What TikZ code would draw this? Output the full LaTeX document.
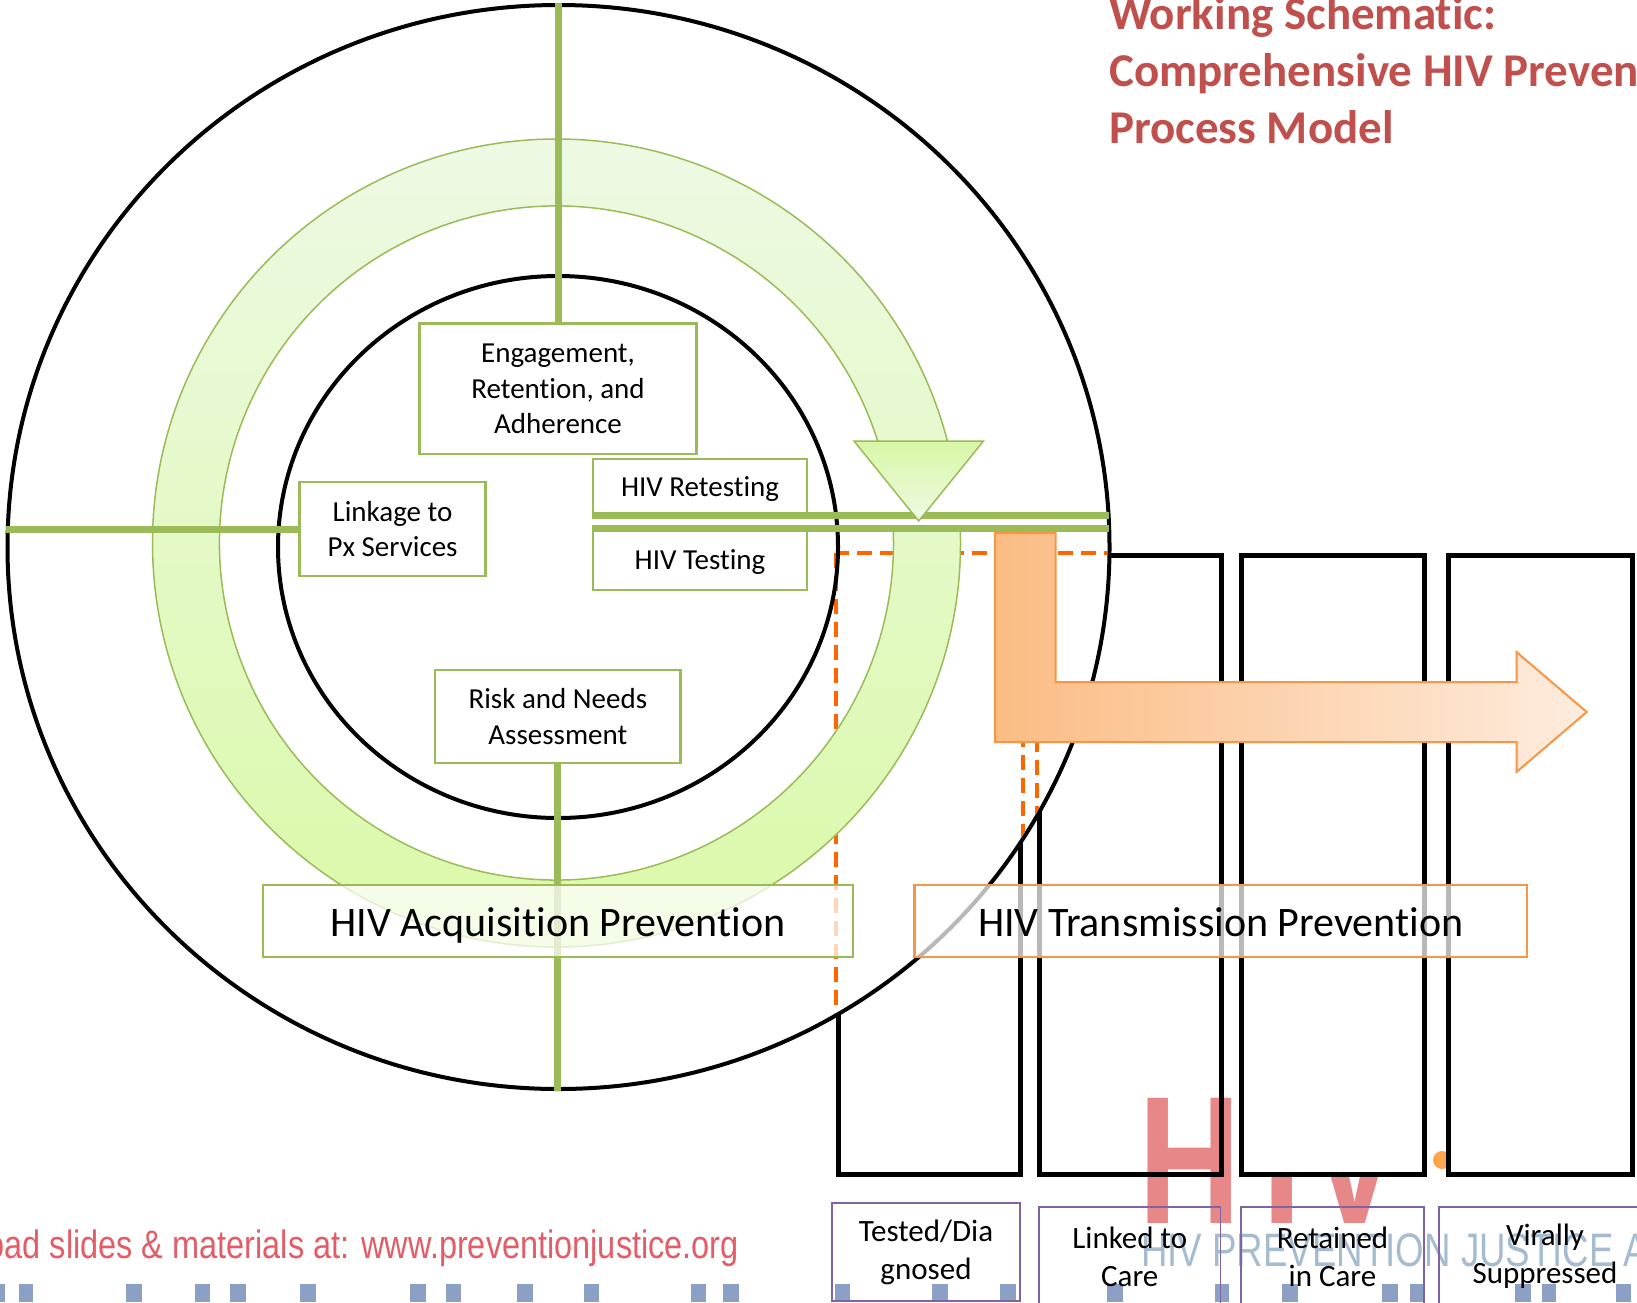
\documentclass[tikz,border=0pt]{standalone}
\usepackage{fontspec}
\setmainfont{Carlito}[RawFeature={-liga}]
\newfontfamily\wmfont[FakeStretch=0.82]{Liberation Sans}
\newfontfamily\logofont[FakeStretch=0.78]{Liberation Sans}
\usetikzlibrary{shapes.geometric}
\definecolor{gline}{HTML}{9BBB59}
\definecolor{oline}{HTML}{F79646}
\definecolor{odash}{HTML}{FF6600}
\definecolor{purp}{HTML}{8064A2}
\definecolor{titlered}{HTML}{C0504D}
\definecolor{ringtop}{RGB}{238,249,228}
\definecolor{ringbot}{RGB}{218,249,168}
\definecolor{arrtop}{RGB}{216,247,166}
\definecolor{arrbot}{RGB}{238,250,228}
\definecolor{arrL}{RGB}{251,188,132}
\definecolor{arrR}{RGB}{254,236,222}
\definecolor{wmred}{RGB}{228,92,102}
\definecolor{barblue}{RGB}{140,160,198}
\definecolor{logopink}{RGB}{232,135,135}
\definecolor{logoblue}{RGB}{165,188,208}
\begin{document}
\begin{tikzpicture}[x=1pt,y=1pt,
  gbox/.style={draw=gline, line width=2.5pt, fill=white, inner sep=0pt, align=center,
    font=\fontsize{29}{35.4}\selectfont},
  bigbox/.style={line width=2.5pt, fill=white, fill opacity=0.72, text opacity=1, inner sep=0pt,
    font=\fontsize{42}{50}\selectfont, minimum height=72pt, text height=35pt, text depth=5pt},
  gl/.style={draw=gline, line width=7pt},
  dsh/.style={draw=odash, line width=4pt, dash pattern=on 15pt off 8pt},
  tallbox/.style={draw=black, line width=5pt, inner sep=0pt, minimum height=619.5pt},
  lbox/.style={draw=purp, line width=1.5pt, inner sep=0pt, align=center,
    font=\fontsize{31}{37.8}\selectfont},
  ttl/.style={anchor=base west, inner sep=0pt, text=titlered,
    font=\fontsize{47}{57.4}\selectfont\bfseries}
]
\useasboundingbox (0,0) rectangle (1637,-1302);
\fill[white] (0,0) rectangle (1637,-1302);

% ---------- background watermark / logo ----------
\node[anchor=base east, inner sep=0pt, text=wmred, font=\wmfont\fontsize{39.6}{44}\selectfont]
  (wm) at (739,-1258) {oad slides \& materials at: www.preventionjustice.org};
\foreach \a/\b in {-4/5, 19/33, 126/142, 195/210, 230/246, 300/316, 410/426, 446/461,
                   517/533, 584/599, 691/706, 723/739, 835/850, 932/948, 1000/1016,
                   1107/1123, 1215/1229, 1282/1298, 1382/1398, 1410/1425, 1515/1531,
                   1542/1556, 1616/1631}
  \fill[barblue] (\a,-1284) rectangle (\b,-1302);
\node[anchor=base west, inner sep=0pt, text=logopink, font=\logofont\bfseries\fontsize{182}{190}\selectfont]
  (logo) at (1138,-1223) {H\hspace{22pt}I\hspace{5pt}V};
\fill[orange!70] (1442,-1160) circle (9);
\node[anchor=base west, inner sep=0pt, text=logoblue, font=\logofont\fontsize{47}{52}\selectfont]
  (logotext) at (1141,-1266) {HIV PREVENTION JUSTICE ALLIANCE};

% ---------- tall cascade boxes ----------
\node[tallbox, fill=white, minimum width=182pt] (b1) at (929,-864.75) {};
\node[tallbox, minimum width=182pt] (b2) at (1130,-864.75) {};
\node[tallbox, fill=white, minimum width=183pt] (b3) at (1332.5,-864.75) {};
\node[tallbox, fill=white, minimum width=184pt] (b4) at (1540,-864.75) {};

% ---------- outer circle ----------
\node[ellipse, draw=black, line width=4pt, fill=white, inner sep=0pt,
  minimum width=1102pt, minimum height=1084pt] (outer) at (558.5,-547) {};
\begin{scope}
  \clip (558.5,-547) ellipse [x radius=549, y radius=540];
  \foreach \n in {b1,b2,b3,b4}
    \draw[dsh] (\n.north west) rectangle (\n.south east);
\end{scope}
% inner circle
\node[ellipse, draw=black, line width=4pt, inner sep=0pt,
  minimum width=560pt, minimum height=542pt] (inner) at (558,-547) {};

% ---------- green circular arrow ----------
\path[draw=gline, line width=1.5pt, top color=ringtop, bottom color=ringbot]
  (556.5,-543) ++(2:404) arc[start angle=2, end angle=-345.48, radius=404]
  -- (877.9,-441.7) arc[start angle=-342.51, end angle=2, radius=337] -- cycle;

% ---------- green boxes ----------
\node[gbox, minimum width=276.6pt, minimum height=130.4pt] (eng) at (558,-388.8)
  {Engagement,\\Retention, and\\Adherence};
\node[gbox, minimum width=185.9pt, minimum height=94pt] (link) at (392.55,-529)
  {Linkage to\\Px Services};
\node[gbox, minimum width=214pt, minimum height=55.7pt, text height=22pt, text depth=3pt] (retest) at (700,-486.85)
  {HIV Retesting};
\node[gbox, minimum width=214pt, minimum height=60pt, text height=22pt, text depth=3pt] (test) at (700,-560)
  {HIV Testing};
\node[gbox, minimum width=245.7pt, minimum height=93pt] (risk) at (557.85,-716.5)
  {Risk and Needs\\Assessment};

% ---------- green connector lines ----------
\coordinate (rend) at (1108.7,0);
\draw[gl] (eng.north) -- (eng.north |- outer.north);
\draw[gl] (risk.south) -- (risk.south |- outer.south);
\draw[gl] (outer.west |- link.west) -- (link.west);
\draw[gl] (retest.south west) -- (retest.south west -| rend);
\draw[gl] (test.north west) -- (test.north west -| rend);

% arrow head of the circular arrow
\path[draw=gline, line width=1.5pt, top color=arrtop, bottom color=arrbot]
  (854,-441) -- (983.5,-441) -- (918.7,-521) -- cycle;

% ---------- orange bent arrow ----------
\path[draw=oline, line width=2pt, left color=arrL, right color=arrR]
  (995,-533) -- (1055.7,-533) -- (1055.7,-682) -- (1516.5,-682) -- (1516.5,-652)
  -- (1586.7,-712) -- (1516.5,-772) -- (1516.5,-742) -- (995,-742) -- cycle;

% ---------- prevention boxes ----------
\node[bigbox, draw=gline, minimum width=590pt] (acq) at (558,-921) {HIV Acquisition Prevention};
\node[bigbox, draw=oline, minimum width=612.5pt] (trans) at (1220.75,-921) {HIV Transmission Prevention};

% ---------- cascade labels ----------
\node[lbox, minimum width=188pt, minimum height=98pt] (l1) at (926,-1252) {Tested/Dia\\gnosed};
\node[lbox, minimum width=181.5pt, minimum height=99.2pt] (l2) at (1129.75,-1256.6) {Linked to\\Care};
\node[lbox, minimum width=183pt, minimum height=99.2pt] (l3) at (1332.5,-1256.6) {Retained\\in Care};
\node[lbox, minimum width=212pt, minimum height=99.2pt] (l4) at (1545,-1256.6) {Virally\\Suppressed};

% ---------- title ----------
\node[ttl] (t1) at (1109,-29.6) {Working Schematic:};
\node[ttl] (t2) at (1109,-86.6) {Comprehensive HIV Prevention};
\node[ttl] (t3) at (1109,-143.6) {Process Model};
\end{tikzpicture}
\end{document}
